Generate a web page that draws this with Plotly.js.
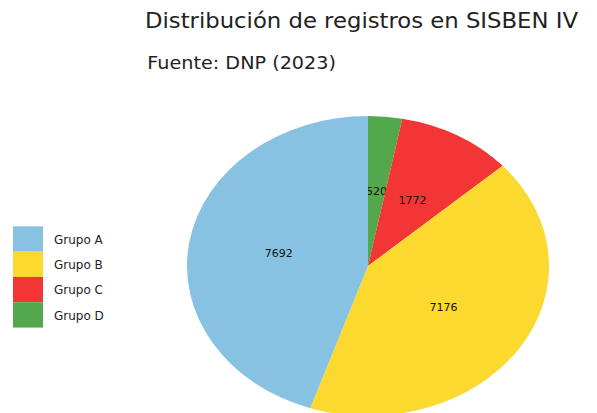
<!DOCTYPE html>
<html>
<head>
<meta charset="utf-8">
<script src="https://cdn.plot.ly/plotly-3.0.1.min.js"></script>
<style>
html,body{margin:0;padding:0;background:#fff;overflow:hidden;}
#chart{width:597px;height:430px;}
</style>
</head>
<body>
<div id="chart"></div>
<script>
var categories = ["Grupo A", "Grupo B", "Grupo C", "Grupo D"];
var values = [7692, 7176, 1772, 520];
var colors = ["#88c2e2", "#fbd92f", "#f23535", "#52a84a"];
var titleText = "Distribución de registros en SISBEN IV";
var subtitleText = "Fuente: DNP (2023)";

var W = 597, H = 430;
var cx = 368, cy = 266, ry = 150, rx = 181;
var titleStretch = 1.11, subStretch = 1.13;
var labelFrac = 0.5;

// The reference runs counterclockwise from 12 o'clock (A, B, C, D);
// drawn here clockwise with the order reversed.
var revLabels = categories.slice().reverse();
var revValues = values.slice().reverse();
var revColors = colors.slice().reverse();

var trace = {
  type: "pie",
  labels: revLabels,
  values: revValues,
  sort: false,
  direction: "clockwise",
  rotation: 0,
  marker: {colors: revColors, line: {width: 0}},
  textinfo: "value",
  textposition: "inside",
  insidetextorientation: "horizontal",
  textfont: {family: "DejaVu Sans", size: 11, color: "#111"},
  hoverinfo: "label+value",
  domain: {x: [(cx - ry) / W, (cx + ry) / W], y: [(H - cy - ry) / H, (H - cy + ry) / H]}
};

var layout = {
  width: W, height: H,
  margin: {l: 0, r: 0, t: 0, b: 0},
  paper_bgcolor: "#fff",
  font: {family: "DejaVu Sans", color: "#222"},
  title: {text: titleText, font: {family: "DejaVu Sans", size: 20.5, color: "#222"},
          xref: "paper", x: 145 / W, xanchor: "left", yref: "container", y: 1 - 21 / H, yanchor: "middle"},
  annotations: [{text: subtitleText, xref: "paper", yref: "paper", x: 145 / W, y: 1 - 63 / H,
                 xanchor: "left", yanchor: "middle", showarrow: false,
                 font: {family: "DejaVu Sans", size: 17, color: "#222"}}],
  showlegend: true,
  legend: {x: 13 / W, xanchor: "left", y: 1 - 226 / H, yanchor: "top", traceorder: "reversed",
           font: {family: "DejaVu Sans", size: 12, color: "#222"}}
};

function stretchX(el, x0, s) {
  el.setAttribute("transform", "translate(" + x0 + ",0) scale(" + s + ",1) translate(" + (-x0) + ",0) " + (el.getAttribute("transform") || ""));
}
function parseTranslate(str) {
  var m = /translate\(\s*([-\d.e]+)[ ,]+([-\d.e]+)\s*\)/.exec(str || "");
  return m ? [parseFloat(m[1]), parseFloat(m[2])] : [0, 0];
}

Plotly.newPlot("chart", [trace], layout, {displayModeBar: false, staticPlot: true}).then(function () {
  var svgRect = document.querySelector(".main-svg").getBoundingClientRect();
  var sx = rx / ry;
  var tf = "translate(" + cx + "," + cy + ") scale(" + sx + ",1) translate(" + (-cx) + "," + (-cy) + ")";
  document.querySelectorAll(".pielayer path.surface").forEach(function (p) {
    p.setAttribute("transform", tf);
  });
  // slice labels at half radius along each slice's mid angle (from the data)
  var total = values.reduce(function (a, b) { return a + b; }, 0);
  document.querySelectorAll(".pielayer text.slicetext").forEach(function (t) {
    var k = values.indexOf(Number(t.textContent.replace(/[^\d.-]/g, "")));
    if (k < 0) return;
    var before = 0;
    for (var j = 0; j < k; j++) before += values[j];
    var mid = (90 + (before + values[k] / 2) / total * 360) * Math.PI / 180;
    var tx = cx + labelFrac * rx * Math.cos(mid), ty = cy - labelFrac * ry * Math.sin(mid);
    t.setAttribute("transform", "");
    var b = t.getBBox();
    t.setAttribute("transform", "translate(" + (tx - (b.x + b.width / 2)) + "," + (ty - (b.y + b.height / 2)) + ")");
  });
  // title & subtitle stretch
  var gt = document.querySelector("text.gtitle");
  if (gt) stretchX(gt, 145, titleStretch);
  var an = document.querySelector("g.annotation");
  if (an) stretchX(an, 145, subStretch);
  // legend: big contiguous swatches
  document.querySelectorAll(".legend [clip-path]").forEach(function (e) { e.removeAttribute("clip-path"); });
  var rowH = 25.3, firstCy = 239, swCx = 28, textLeft = 54;
  document.querySelectorAll(".legend g.traces").forEach(function (g) {
    var tx = g.querySelector("text.legendtext");
    var i = categories.indexOf(tx.textContent.trim());
    var p = g.querySelector("path.legendpie");
    if (p) p.setAttribute("transform", (p.getAttribute("transform") || "") + " scale(2.5,2.11)");
    var pr = p.getBoundingClientRect();
    var pcx = pr.left + pr.width / 2 - svgRect.left, pcy = pr.top + pr.height / 2 - svgRect.top;
    var t0 = parseTranslate(g.getAttribute("transform"));
    var nx = t0[0] + (swCx - pcx), ny = t0[1] + (firstCy + i * rowH - pcy);
    g.setAttribute("transform", "translate(" + nx + "," + ny + ")");
    var trr = tx.getBoundingClientRect();
    var dl = textLeft - (trr.left - svgRect.left);
    tx.setAttribute("transform", "translate(" + dl + ",0) " + (tx.getAttribute("transform") || ""));
  });
});
</script>
</body>
</html>
